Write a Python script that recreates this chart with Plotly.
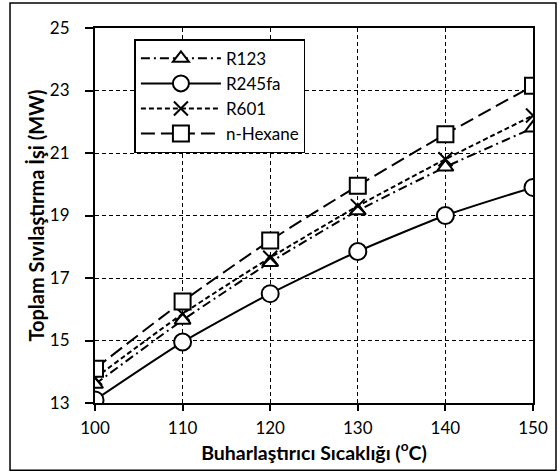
import plotly.graph_objects as go

# Evaporator temperature (°C)
temps = [100, 110, 120, 130, 140, 150]

# Total condensation work (MW) for each working fluid
r123 = [13.6, 15.65, 17.5, 19.15, 20.55, 21.8]
r245fa = [13.1, 14.95, 16.5, 17.85, 19.0, 19.9]
r601 = [13.8, 15.85, 17.65, 19.3, 20.8, 22.2]
n_hexane = [14.1, 16.25, 18.2, 19.95, 21.6, 23.15]

series_names = ["R123", "R245fa", "R601", "n-Hexane"]
y_ticks = [13, 15, 17, 19, 21, 23, 25]

FONT = "Lato, 'Open Sans', sans-serif"

styles = [
    dict(dash="9px,4px,2px,4px", symbol="triangle-up", size=14, fill="white"),
    dict(dash="solid", symbol="circle", size=17, fill="white"),
    dict(dash="5px,3px", symbol="x-thin", size=14, fill="black"),
    dict(dash="14px,6px", symbol="square", size=16, fill="white"),
]

fig = go.Figure()
for name, vals, st in zip(series_names, [r123, r245fa, r601, n_hexane], styles):
    fig.add_trace(go.Scatter(
        x=temps, y=vals, name=name, mode="lines+markers",
        line=dict(color="black", width=2, dash=st["dash"], shape="spline", smoothing=0.6),
        marker=dict(symbol=st["symbol"], size=st["size"], color=st["fill"],
                    line=dict(color="black", width=2)),
    ))

axis_common = dict(
    showline=True, linecolor="black", linewidth=2, mirror=True,
    showgrid=True, gridcolor="black", gridwidth=1, griddash="4px,3px",
    ticks="outside", tickwidth=1.5, tickcolor="black",
    zeroline=False,
    tickfont=dict(family=FONT, size=17, color="black"),
)

fig.update_layout(
    width=560, height=474,
    margin=dict(l=95, r=24, t=28, b=71),
    paper_bgcolor="white", plot_bgcolor="white",
    font=dict(family=FONT, size=17, color="black"),
    xaxis=dict(
        range=[100, 150], tickvals=temps, ticklen=6, ticklabelstandoff=3,
        title=dict(text="<b>Buharlaştırıcı Sıcaklığı (<sup>o</sup>C)</b>",
                   font=dict(family=FONT, size=19.5), standoff=1),
        **axis_common,
    ),
    yaxis=dict(
        range=[13, 25], tickvals=y_ticks, ticklen=8, ticklabelstandoff=12,
        title=dict(text="<b>Toplam Sıvılaştırma İşi (MW)</b>",
                   font=dict(family=FONT, size=20), standoff=0),
        **axis_common,
    ),
    legend=dict(
        x=0.09, y=0.97, xanchor="left", yanchor="top",
        bgcolor="white", bordercolor="black", borderwidth=1.5,
        font=dict(family=FONT, size=17, color="black"),
        itemwidth=80,
    ),
    shapes=[dict(
        type="rect", xref="paper", yref="paper",
        x0=-0.194, x1=1.0525, y0=-0.179, y1=1.0667,
        line=dict(color="black", width=1.5), fillcolor="rgba(0,0,0,0)", layer="below",
    )],
)

fig.write_html("out.html")
